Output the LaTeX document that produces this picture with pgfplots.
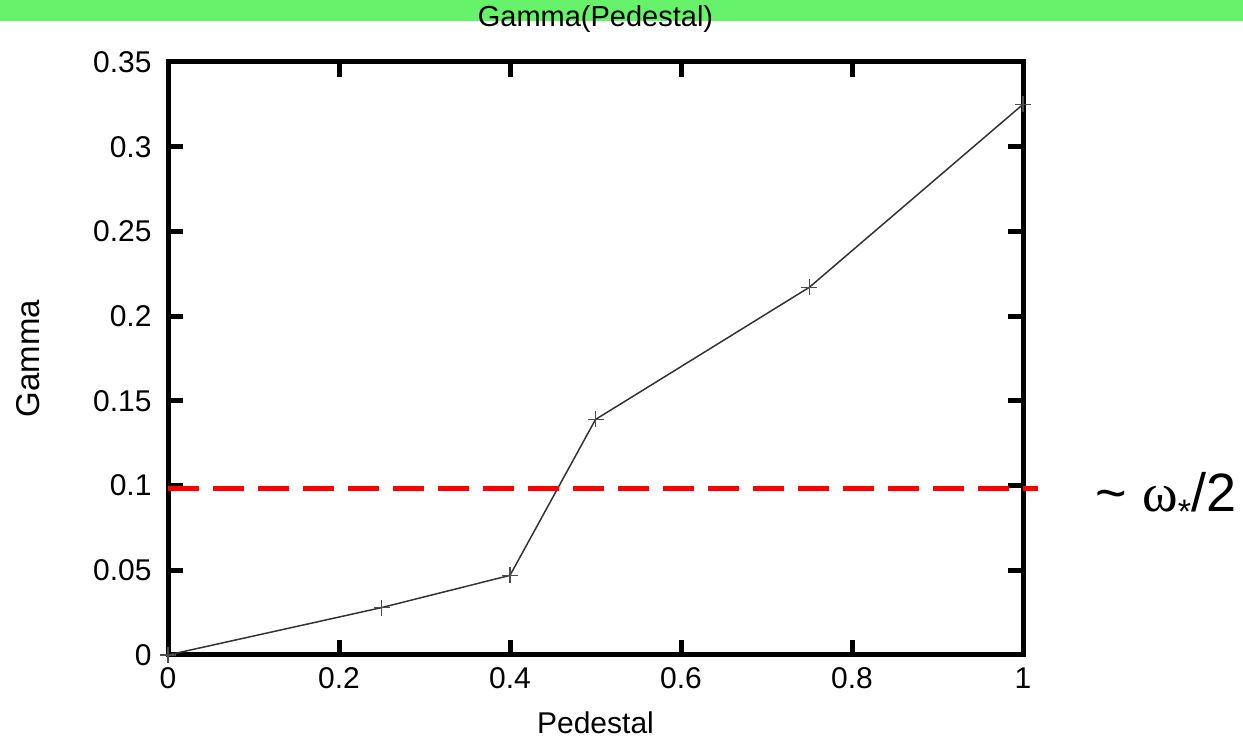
\documentclass[border=0pt]{standalone}
\usepackage{fontspec}
\setmainfont{Liberation Sans}
\newfontfamily\seriffont{Liberation Serif}
\usepackage{pgfplots}
\pgfplotsset{compat=1.18}
\begin{document}
\begin{tikzpicture}[x=1pt,y=1pt]
\useasboundingbox (0,0) rectangle (1243,739);
\fill[fill={rgb,255:red,102;green,242;blue,106}] (0,718) rectangle (1243,739);
\begin{axis}[
  at={(168pt,84pt)}, anchor=south west,
  scale only axis, width=855pt, height=593pt,
  xmin=0, xmax=1, ymin=0, ymax=0.35,
  xtick={0,0.2,0.4,0.6,0.8,1},
  ytick={0,0.05,0.1,0.15,0.2,0.25,0.3,0.35},
  xticklabels={0,0.2,0.4,0.6,0.8,1},
  yticklabels={0,0.05,0.1,0.15,0.2,0.25,0.3,0.35},
  tick align=inside, major tick length=15pt,
  every tick/.style={black, line width=5pt},
  axis line style={line width=5pt},
  tick label style={font=\fontsize{30}{34}\selectfont},
  xticklabel style={yshift=-9pt},
  yticklabel style={xshift=-13pt},
  xlabel={Pedestal}, ylabel={Gamma},
  every axis x label/.style={at={(rel axis cs:0.5,0)}, yshift=-68pt, anchor=center, font=\fontsize{30}{33}\selectfont},
  every axis y label/.style={at={(rel axis cs:0,0.5)}, xshift=-140pt, rotate=90, anchor=center, font=\fontsize{33}{36}\selectfont},
  title={Gamma(Pedestal)},
  every axis title/.style={at={(rel axis cs:0.5,1)}, yshift=43pt, anchor=center, font=\fontsize{29}{32}\selectfont},
  clip=false,
]
\addplot[color=black!80, line width=1.5pt, mark=+, mark size=8pt, mark options={line width=1.3pt, black!70, solid}]
  coordinates {(0,0) (0.25,0.028) (0.4,0.047) (0.5,0.139) (0.75,0.217) (1,0.325)};
\addplot[red, line width=5pt, dash pattern=on 31pt off 14pt, forget plot]
  coordinates {(0,0.098) (1.018,0.098)};
\node[anchor=west, font=\fontsize{54}{60}\selectfont, inner sep=0pt] at (axis cs:1.085,0.0925) {\textasciitilde\ {\seriffont ω}\raisebox{-12pt}{\fontsize{34}{36}\selectfont *}/2};
\end{axis}
\end{tikzpicture}
\end{document}
